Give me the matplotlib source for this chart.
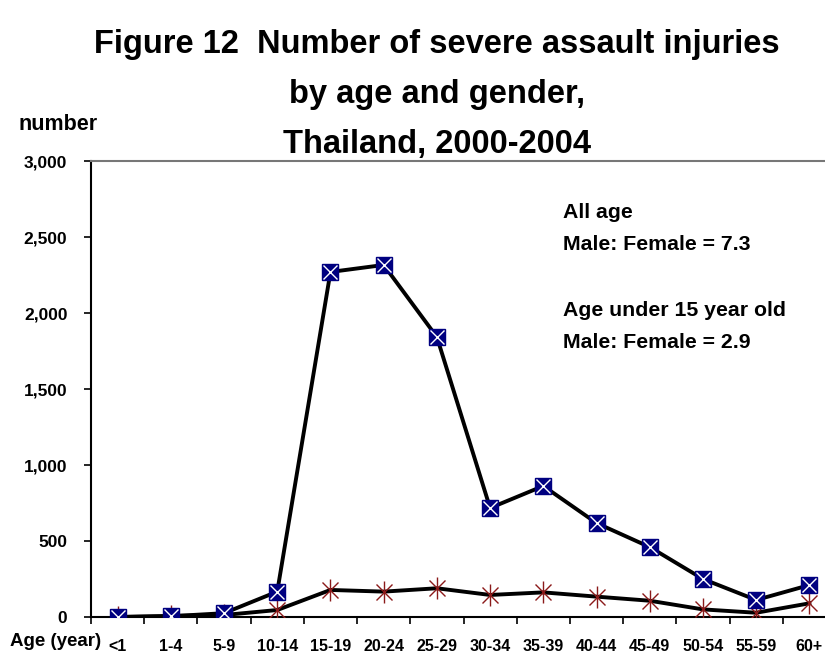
import matplotlib
matplotlib.use("Agg")
import matplotlib.pyplot as plt
import numpy as np

categories = ["<1", "1-4", "5-9", "10-14", "15-19", "20-24", "25-29", "30-34",
              "35-39", "40-44", "45-49", "50-54", "55-59", "60+"]
male = [0, 5, 25, 167, 2270, 2316, 1842, 717, 862, 618, 460, 250, 112, 210]
female = [0, 7, 13, 46, 178, 167, 189, 145, 162, 134, 107, 50, 28, 90]
yticks = [0, 500, 1000, 1500, 2000, 2500, 3000]
ytick_labels = ["0", "500", "1,000", "1,500", "2,000", "2,500", "3,000"]

W, H = 825, 657
fig = plt.figure(figsize=(W / 100, H / 100), dpi=100)
ax_left, ax_right, ax_top, ax_bottom = 91, 836, 161, 617
ax = fig.add_axes([ax_left / W, 1 - ax_bottom / H, (ax_right - ax_left) / W, (ax_bottom - ax_top) / H])

x = np.arange(len(categories))
ax.plot(x, female, color="black", lw=2.8, zorder=2)
ax.plot(x, female, ls="none", marker="x", ms=12, mec="#8B1A1A", mew=1.0, zorder=3)
ax.plot(x, female, ls="none", marker="|", ms=16, mec="#8B1A1A", mew=1.0, zorder=3)

ax.plot(x, male, color="black", lw=2.8, zorder=4)
ax.plot(x, male, ls="none", marker="s", ms=12, mfc="#000080", mec="#000080", zorder=5)
ax.plot(x, male, ls="none", marker="x", ms=10, mec="white", mew=1.0, zorder=6)

ax.set_xlim(-0.5, len(categories) - 0.5)
ax.set_ylim(0, 3000)

ax.spines["right"].set_visible(False)
ax.spines["top"].set_color("#777777")
ax.spines["top"].set_linewidth(1.5)
ax.spines["left"].set_linewidth(1.5)
ax.spines["bottom"].set_linewidth(1.5)

ax.set_yticks(yticks)
ax.set_yticklabels(ytick_labels, fontsize=12.5, fontweight="bold", family="Liberation Sans")
ax.tick_params(axis="y", direction="out", length=5, width=1.2, pad=12)

ax.set_xticks(np.arange(len(categories) + 1) - 0.5)
ax.set_xticklabels([])
ax.tick_params(axis="x", direction="out", length=5, width=1.2)
for i, lab in enumerate(categories):
    ax.text(i, -0.065, lab, transform=ax.get_xaxis_transform(), ha="center", va="center",
            fontsize=11.5, fontweight="bold", family="Liberation Sans")

tfont = dict(fontsize=23.5, fontweight="bold", family="Liberation Sans", ha="center", va="center")
fig.text(437 / W, 1 - 45 / H, "Figure 12  Number of severe assault injuries", **tfont)
fig.text(437 / W, 1 - 95 / H, "by age and gender,", **tfont)
fig.text(437 / W, 1 - 145 / H, "Thailand, 2000-2004", **tfont)

fig.text(18 / W, 1 - 125 / H, "number", fontsize=15.5, fontweight="bold", family="Liberation Sans",
         ha="left", va="center")
fig.text(10 / W, 1 - 642 / H, "Age (year)", fontsize=13.5, fontweight="bold", family="Liberation Sans",
         ha="left", va="center")

afont = dict(fontsize=15.3, fontweight="bold", family="Liberation Sans", ha="left", va="center")
fig.text(563 / W, 1 - 213 / H, "All age", **afont)
fig.text(563 / W, 1 - 245 / H, "Male: Female = 7.3", **afont)
fig.text(563 / W, 1 - 311 / H, "Age under 15 year old", **afont)
fig.text(563 / W, 1 - 343 / H, "Male: Female = 2.9", **afont)

fig.savefig("out.png", dpi=100)
